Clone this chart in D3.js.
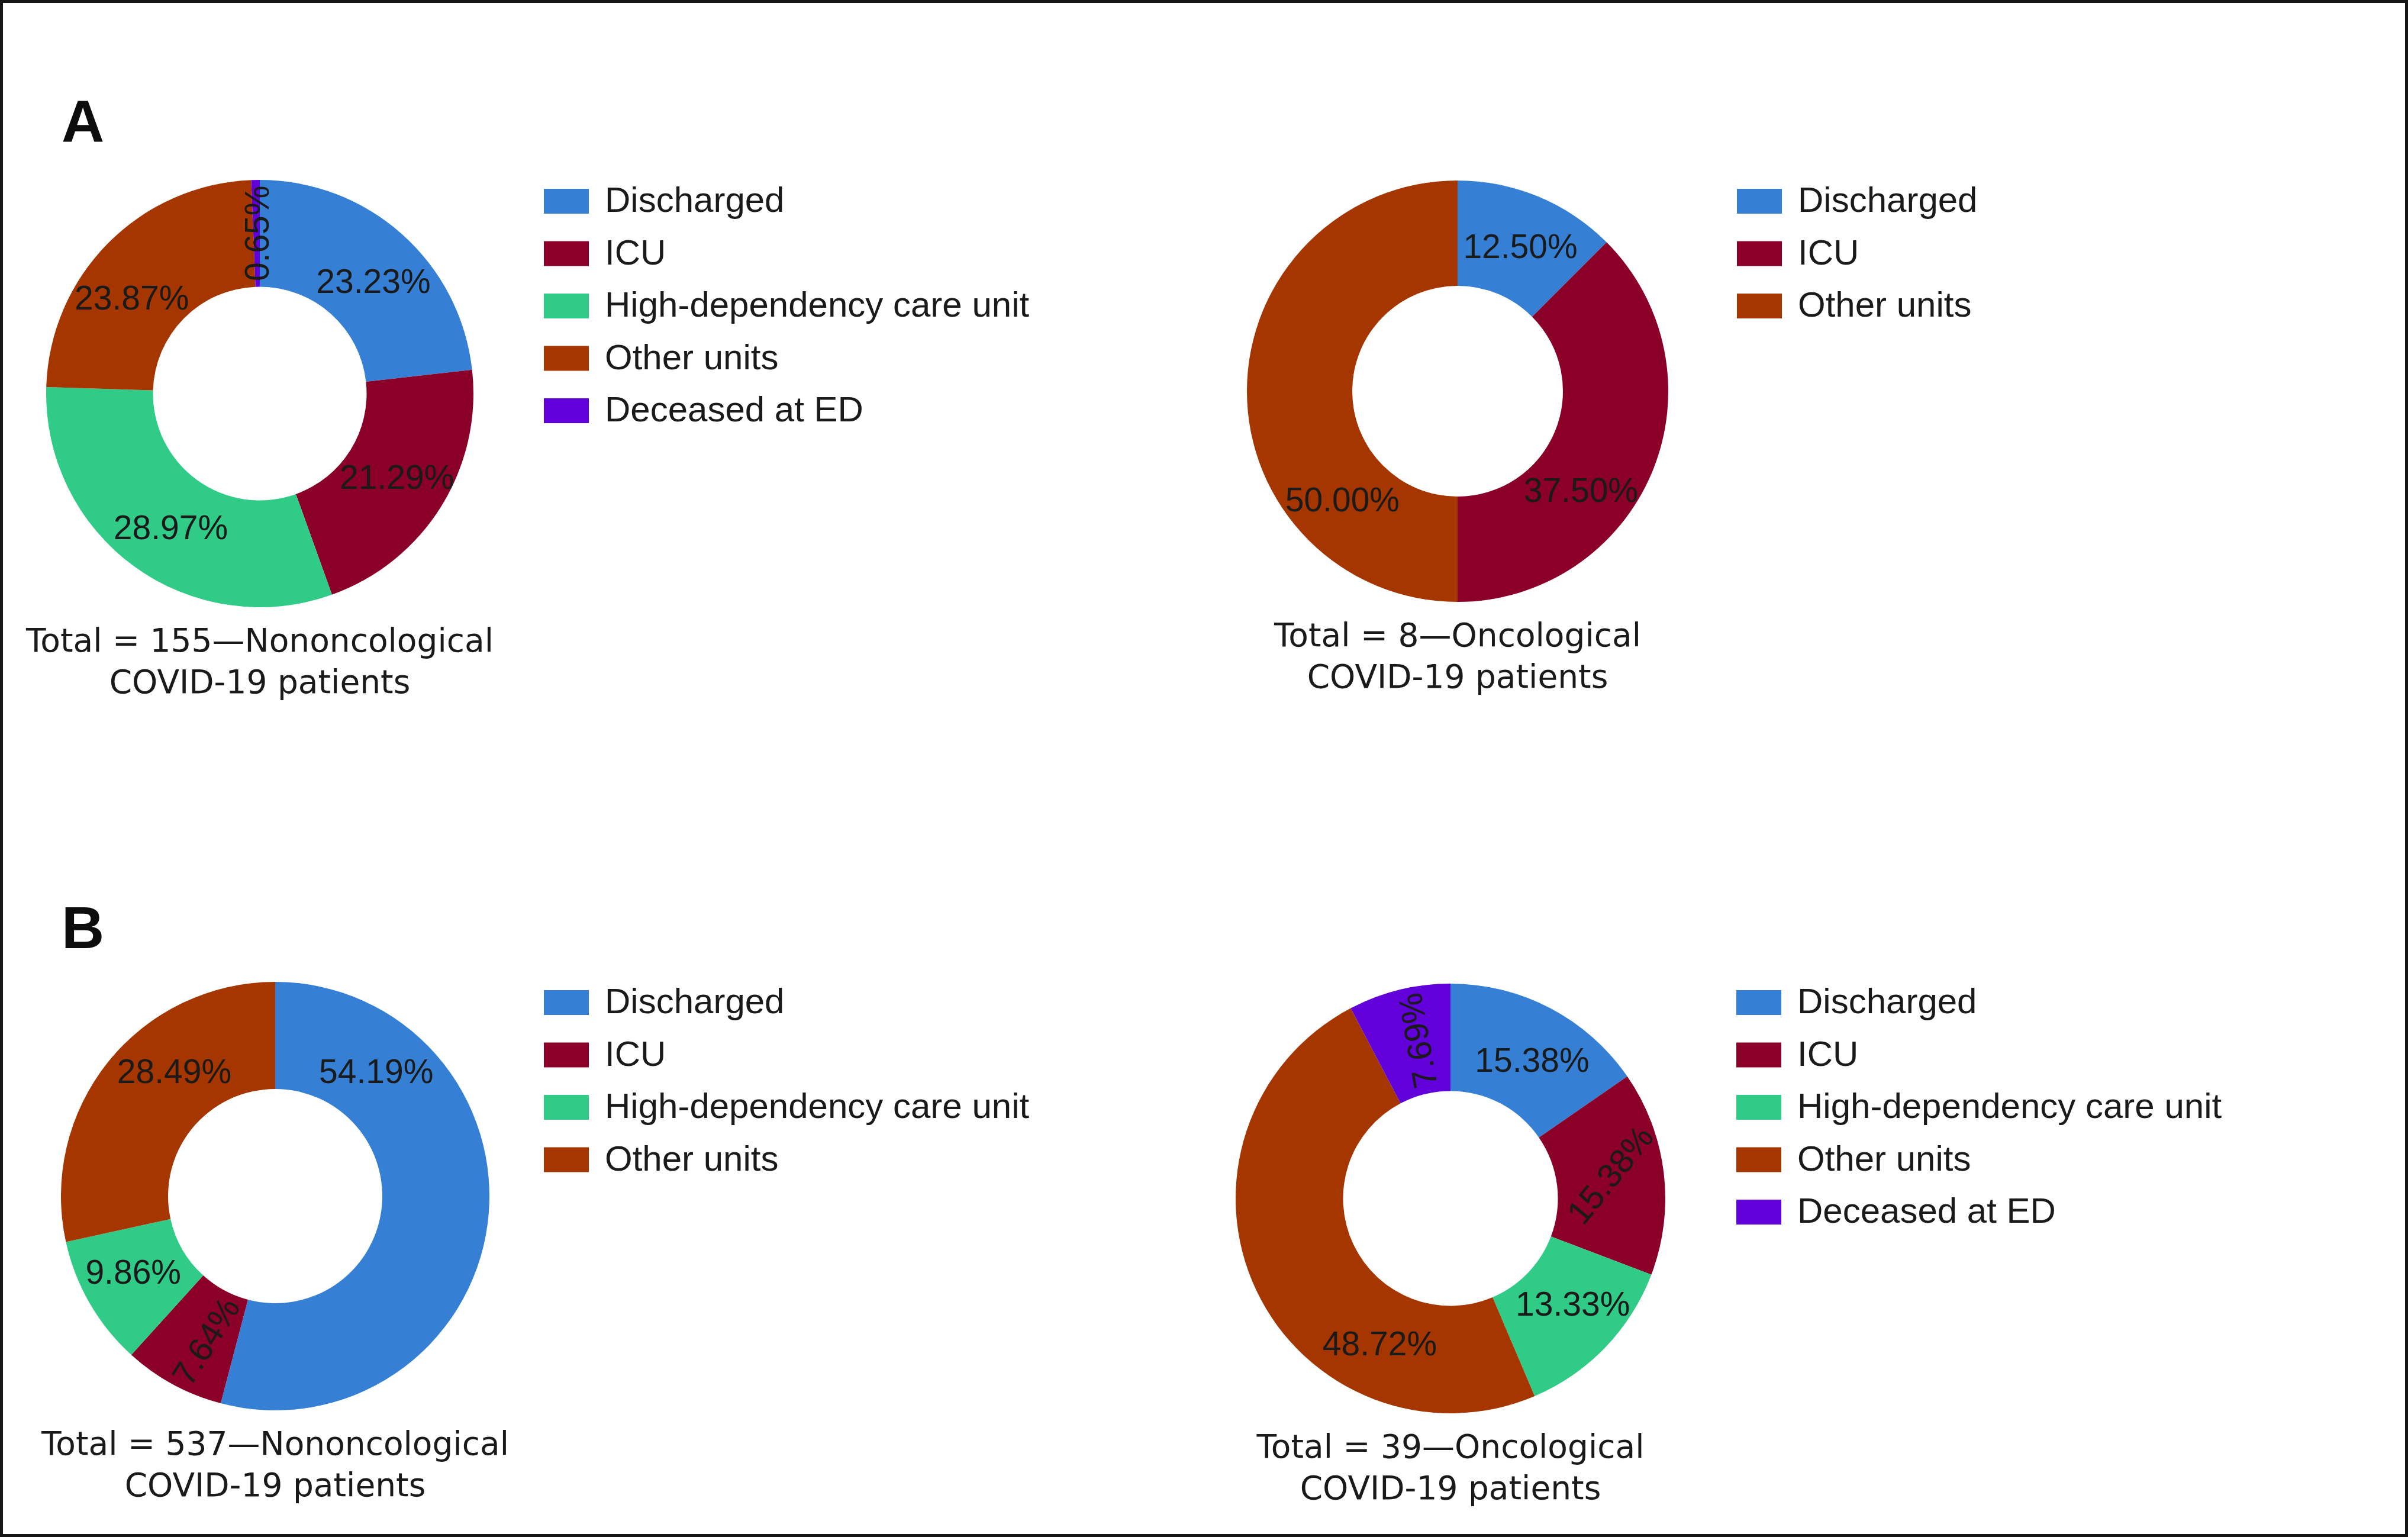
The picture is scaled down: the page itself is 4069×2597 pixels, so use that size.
<!DOCTYPE html>
<html>
<head>
<meta charset="utf-8">
<script src="https://cdn.jsdelivr.net/npm/d3@7"></script>
<style>
  body { margin: 0; background: #fff; }
</style>
</head>
<body>
<div id="chart"></div>
<script>
// categories and colours shared by all four doughnuts
const categories = ["Discharged", "ICU", "High-dependency care unit", "Other units", "Deceased at ED"];
const colors = ["#3580d5", "#8b0028", "#30cb87", "#a63600", "#6200d9"];

// A - nononcological, total 155 (patients per destination)
const aNonOncCats = [0, 1, 2, 3, 4];
const aNonOncValues = [36, 33, 48, 37, 1];
const aNonOncLabels = ["23.23%", "21.29%", "28.97%", "23.87%", "0.65%"];
const aNonOncCaption = ["Total = 155\u2014Nononcological", "COVID-19 patients"];

// A - oncological, total 8
const aOncCats = [0, 1, 3];
const aOncValues = [1, 3, 4];
const aOncLabels = ["12.50%", "37.50%", "50.00%"];
const aOncCaption = ["Total = 8\u2014Oncological", "COVID-19 patients"];

// B - nononcological, total 537
const bNonOncCats = [0, 1, 2, 3];
const bNonOncValues = [54.19, 7.64, 9.86, 28.49];
const bNonOncLabels = ["54.19%", "7.64%", "9.86%", "28.49%"];
const bNonOncCaption = ["Total = 537\u2014Nononcological", "COVID-19 patients"];

// B - oncological, total 39
const bOncCats = [0, 1, 2, 3, 4];
const bOncValues = [6, 6, 5, 19, 3];
const bOncLabels = ["15.38%", "15.38%", "13.33%", "48.72%", "7.69%"];
const bOncCaption = ["Total = 39\u2014Oncological", "COVID-19 patients"];

const width = 4069, height = 2597;

const svg = d3.select("#chart")
  .append("svg")
  .attr("width", width)
  .attr("height", height);

svg.append("rect")
  .attr("x", 2.5).attr("y", 2.5)
  .attr("width", width - 5).attr("height", height - 5)
  .attr("fill", "#fff")
  .attr("stroke", "#161616")
  .attr("stroke-width", 5);

// panel letters
svg.append("text").attr("x", 104).attr("y", 240).text("A")
  .attr("font-family", "Liberation Sans, Arial, sans-serif")
  .attr("font-weight", "bold").attr("font-size", 100).attr("fill", "#0d0d0d");
svg.append("text").attr("x", 104).attr("y", 1602).text("B")
  .attr("font-family", "Liberation Sans, Arial, sans-serif")
  .attr("font-weight", "bold").attr("font-size", 100).attr("fill", "#0d0d0d");

// layout for each doughnut; labelAt = where along the slice the label sits, tilt = label rotation
const panels = [
  { cats: aNonOncCats, values: aNonOncValues, labels: aNonOncLabels, caption: aNonOncCaption,
    cx: 439, cy: 665, r: 361, legendX: 919, legendY: 319,
    labelAt: [0.54, 0.49, 0.48, 0.41, 0.5], tilt: [0, 0, 0, 0, -90] },
  { cats: aOncCats, values: aOncValues, labels: aOncLabels, caption: aOncCaption,
    cx: 2463, cy: 661, r: 356, legendX: 2935, legendY: 319,
    labelAt: [0.52, 0.62, 0.26], tilt: [0, 0, 0] },
  { cats: bNonOncCats, values: bNonOncValues, labels: bNonOncLabels, caption: bNonOncCaption,
    cx: 465, cy: 2021, r: 362, legendX: 919, legendY: 1673,
    labelAt: [0.2, 0.4, 0.56, 0.62], tilt: [0, -58, 0, 0] },
  { cats: bOncCats, values: bOncValues, labels: bOncLabels, caption: bOncCaption,
    cx: 2451, cy: 2025, r: 363, legendX: 2934, legendY: 1673,
    labelAt: [0.55, 0.47, 0.43, 0.28, 0.57], tilt: [0, -51, 0, 0, -100] }
];

const pie = d3.pie().sort(null).value(d => d.value);

panels.forEach(p => {
  const data = p.values.map((v, i) => ({ value: v, cat: p.cats[i], label: p.labels[i], at: p.labelAt[i], tilt: p.tilt[i] }));
  const arcs = pie(data);
  const arc = d3.arc().innerRadius(p.r * 0.5).outerRadius(p.r);

  const g = svg.append("g").attr("transform", `translate(${p.cx},${p.cy})`);

  g.selectAll("path")
    .data(arcs)
    .join("path")
    .attr("d", arc)
    .attr("fill", d => colors[d.data.cat]);

  const labelR = p.r * 0.75;
  g.selectAll("text.pct")
    .data(arcs)
    .join("text")
    .attr("class", "pct")
    .attr("transform", d => {
      const a = d.startAngle + d.data.at * (d.endAngle - d.startAngle);
      const x = labelR * Math.sin(a), y = -labelR * Math.cos(a);
      return `translate(${x},${y}) rotate(${d.data.tilt})`;
    })
    .attr("text-anchor", "middle")
    .attr("dy", "0.36em")
    .attr("font-family", "Liberation Sans, Arial, sans-serif")
    .attr("font-size", 57)
    .attr("fill", "#1a1a1a")
    .text(d => d.data.label);

  // caption under the doughnut
  p.caption.forEach((line, i) => {
    svg.append("text")
      .attr("x", p.cx)
      .attr("y", p.cy + p.r + 75 + i * 70)
      .attr("text-anchor", "middle")
      .attr("font-family", "DejaVu Sans, sans-serif")
      .attr("font-size", 55)
      .attr("fill", "#1a1a1a")
      .text(line);
  });

  // legend
  const lg = svg.append("g").attr("transform", `translate(${p.legendX},${p.legendY})`);
  const rows = lg.selectAll("g")
    .data(p.cats)
    .join("g")
    .attr("transform", (d, i) => `translate(0,${i * 88.5})`);
  rows.append("rect")
    .attr("width", 76).attr("height", 42)
    .attr("fill", d => colors[d]);
  rows.append("text")
    .attr("x", 103).attr("y", 39)
    .attr("font-family", "Liberation Sans, Arial, sans-serif")
    .attr("font-size", 60)
    .attr("fill", "#1a1a1a")
    .text(d => categories[d]);
});
</script>
</body>
</html>
